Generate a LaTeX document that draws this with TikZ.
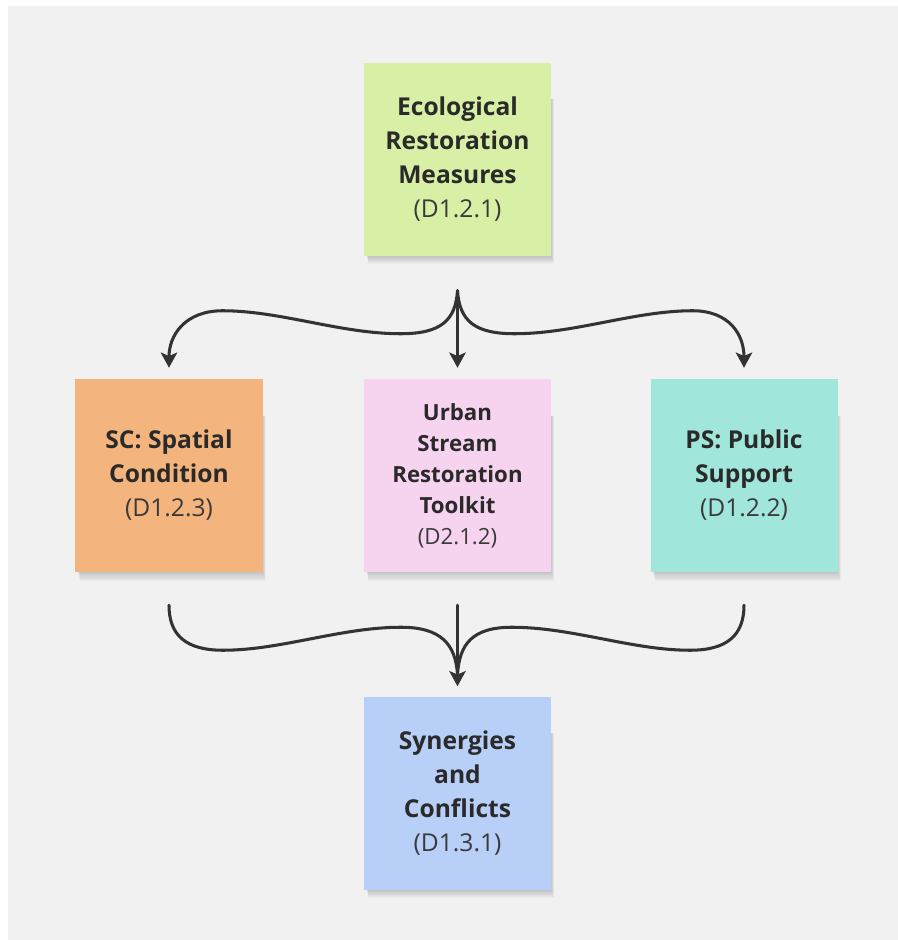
\documentclass[tikz,border=0pt]{standalone}
\usepackage{fontspec}
\setmainfont{Open Sans}
\usetikzlibrary{arrows.meta,calc}
\definecolor{bgwhite}{HTML}{FFFFFF}
\definecolor{bggrey}{HTML}{F1F1F1}
\definecolor{cgreen}{HTML}{D8F0A5}
\definecolor{corange}{HTML}{F3B47E}
\definecolor{cpink}{HTML}{F6D3EE}
\definecolor{cteal}{HTML}{A0E6DA}
\definecolor{cblue}{HTML}{B8CFF8}
\definecolor{ink}{HTML}{2A2A2A}
\definecolor{inkreg}{HTML}{3A3A3A}
\definecolor{arrowc}{HTML}{333333}
\tikzset{
  sticky/.style={rectangle, inner sep=0pt, minimum width=5.61cm, minimum height=5.79cm,
    align=center, text=ink, font=\fontsize{21}{29}\selectfont},
  smalltext/.style={font=\fontsize{19}{26.5}\selectfont},
  flow/.style={draw=arrowc, line width=2.6pt, line cap=round},
  tip/.style={-{Stealth[length=13pt,width=14pt,inset=3pt]}},
  shadowlayer/.style={fill=black, fill opacity=0.022}
}
\newcommand{\refcode}[1]{{\mdseries\color{inkreg}#1}}
\begin{document}
\begin{tikzpicture}[x=0.03cm,y=-0.03cm]
\useasboundingbox (0,0) rectangle (898,940);
\fill[bgwhite] (0,0) rectangle (898,940);
\fill[bggrey] (8,6) rectangle (898,940);

% soft shadows below the sticky notes
\foreach \cx/\cy in {457.5/159, 169/475.5, 457.5/475.5, 744/475.5, 457.5/793}{
  \foreach \i in {1,...,8}{
    \fill[shadowlayer] ({\cx-93.5+2+0.3*\i},{\cy-60}) rectangle ({\cx+93.5+0.4*\i},{\cy+96.5+1.1*\i});
  }
}

\node[sticky, fill=cgreen] (erm) at (457.5,159) {\bfseries Ecological\\\bfseries Restoration\\\bfseries Measures\\\refcode{(D1.2.1)}};
\node[sticky, fill=corange] (sc) at (169,475.5) {\bfseries SC: Spatial\\\bfseries Condition\\\refcode{(D1.2.3)}};
\node[sticky, fill=cpink, smalltext] (usr) at (457.5,475.5) {\bfseries Urban\\\bfseries Stream\\\bfseries Restoration\\\bfseries Toolkit\\\refcode{(D2.1.2)}};
\node[sticky, fill=cteal] (ps) at (744,475.5) {\bfseries PS: Public\\\bfseries Support\\\refcode{(D1.2.2)}};
\node[sticky, fill=cblue] (syn) at (457.5,793) {\bfseries Synergies\\\bfseries and\\\bfseries Conflicts\\\refcode{(D1.3.1)}};

% top split
\coordinate (split) at ($(erm.south)+(0,35)$);
\coordinate (tipL) at ($(sc.north)+(0,-11)$);
\coordinate (tipM) at ($(usr.north)+(0,-11)$);
\coordinate (tipR) at ($(ps.north)+(0,-11)$);
\draw[flow, tip] (split) .. controls ($(split)+(-2,30)$) and ($(split)+(-17,43)$) .. ($(split)+(-57,43)$)
  .. controls ($(split)+(-117,43)$) and ($(split)+(-177,20)$) .. ($(split)+(-235,20)$)
  .. controls ($(split)+(-272,20)$) and ($(tipL)+(0,-33)$) .. (tipL);
\draw[flow, tip] (split) .. controls ($(split)+(2,30)$) and ($(split)+(17,43)$) .. ($(split)+(57,43)$)
  .. controls ($(split)+(117,43)$) and ($(split)+(177,20)$) .. ($(split)+(235,20)$)
  .. controls ($(split)+(272,20)$) and ($(tipR)+(0,-33)$) .. (tipR);
\draw[flow, tip] (split) -- (tipM);

% bottom merge
\coordinate (startL) at ($(sc.south)+(0,33)$);
\coordinate (startM) at ($(usr.south)+(0,33)$);
\coordinate (startR) at ($(ps.south)+(0,33)$);
\coordinate (merge) at ($(syn.north)+(0,-10)$);
\coordinate (mergein) at ($(merge)+(0,-12)$);
\draw[flow] (startL) .. controls ($(startL)+(0,30)$) and ($(startL)+(17,45)$) .. ($(startL)+(54,45)$)
  .. controls ($(startL)+(112,45)$) and ($(startL)+(172,22)$) .. ($(startL)+(232,22)$)
  .. controls ($(startL)+(272,22)$) and ($(mergein)+(-2,-30)$) .. (mergein);
\draw[flow] (startR) .. controls ($(startR)+(0,30)$) and ($(startR)+(-17,45)$) .. ($(startR)+(-54,45)$)
  .. controls ($(startR)+(-112,45)$) and ($(startR)+(-172,22)$) .. ($(startR)+(-232,22)$)
  .. controls ($(startR)+(-272,22)$) and ($(mergein)+(2,-30)$) .. (mergein);
\draw[flow, tip] (startM) -- (merge);
\end{tikzpicture}
\end{document}
